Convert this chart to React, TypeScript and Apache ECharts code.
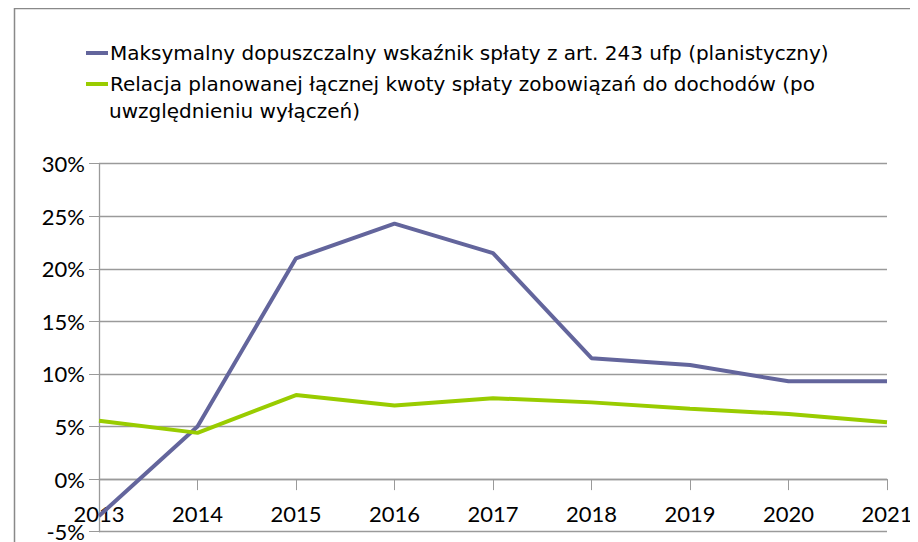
import React, { useEffect, useRef } from "react";
import * as echarts from "echarts";

const years = ["2013", "2014", "2015", "2016", "2017", "2018", "2019", "2020", "2021"];
const maxRatio = [-3.5, 5.0, 21.0, 24.3, 21.5, 11.5, 10.85, 9.3, 9.3];
const plannedRatio = [5.55, 4.4, 8.0, 7.0, 7.7, 7.3, 6.7, 6.2, 5.4];
const seriesNames = [
  "Maksymalny dopuszczalny wskaźnik spłaty z art. 243 ufp (planistyczny)",
  "Relacja planowanej łącznej kwoty spłaty zobowiązań do dochodów (po uwzględnieniu wyłączeń)",
];
const legendLine2First = "Relacja planowanej łącznej kwoty spłaty zobowiązań do dochodów (po";
const legendLine2Rest = "uwzględnieniu wyłączeń)";

const FONT = "Lato, 'Liberation Sans', sans-serif";
const LEGEND_FONT = "'DejaVu Sans', sans-serif";
const PURPLE = "#63659C";
const GREEN = "#99CC00";
const GRID = "#9A9A9A";

const GRID_TOP = 155.7;
const GRID_BOTTOM = 10.3;
const CHART_H = 534;
const Y_MIN = -5;
const Y_MAX = 30;

export default function App() {
  const ref = useRef<HTMLDivElement>(null);
  useEffect(() => {
    if (!ref.current) return;
    const chart = echarts.init(ref.current, undefined, { renderer: "svg" });
    const plotH = CHART_H - GRID_TOP - GRID_BOTTOM;
    const zeroOffset = (plotH * (0 - Y_MIN)) / (Y_MAX - Y_MIN);
    chart.setOption({
      animation: false,
      backgroundColor: "#fff",
      grid: { left: 91, right: 31, top: GRID_TOP, bottom: GRID_BOTTOM, containLabel: false, outerBoundsMode: "none" },
      legend: {
        orient: "vertical",
        left: 73,
        top: 30,
        itemGap: 11,
        itemWidth: 22,
        itemHeight: 4,
        icon: "rect",
        textStyle: { fontFamily: LEGEND_FONT, fontSize: 20, color: "#000", lineHeight: 20, padding: [0, 0, 0, -3] },
        formatter: (name: string) => (name === seriesNames[1] ? legendLine2First : name),
        data: [
          { name: seriesNames[0], itemStyle: { color: PURPLE } },
          { name: seriesNames[1], itemStyle: { color: GREEN } },
        ],
      },
      graphic: [
        {
          type: "rect",
          silent: true,
          shape: { x: 6.5, y: 0.5, width: 2000, height: 2000 },
          style: { fill: "none", stroke: "#898989", lineWidth: 1.5 },
        },
        {
          type: "text",
          left: 101,
          top: 93,
          style: { text: legendLine2Rest, fontFamily: LEGEND_FONT, fontSize: 20, fill: "#000" },
        },
      ],
      xAxis: {
        type: "category",
        data: years,
        boundaryGap: false,
        position: "bottom",
        offset: -zeroOffset,
        axisLine: { onZero: false, lineStyle: { color: GRID, width: 1.3 } },
        axisTick: { show: true, length: 11, lineStyle: { color: GRID } },
        axisLabel: { fontFamily: FONT, fontSize: 22, color: "#000", margin: 23 },
        splitLine: { show: false },
      },
      yAxis: {
        type: "value",
        min: Y_MIN,
        max: Y_MAX,
        interval: 5,
        axisLine: { show: true, lineStyle: { color: GRID, width: 1.3 } },
        axisTick: { show: true, length: 10, lineStyle: { color: GRID } },
        axisLabel: { fontFamily: FONT, fontSize: 22, color: "#000", margin: 14, formatter: "{value}%" },
        splitLine: { show: true, lineStyle: { color: GRID, width: 1.3 } },
      },
      series: [
        {
          name: seriesNames[0],
          type: "line",
          data: maxRatio,
          symbol: "none",
          lineStyle: { color: PURPLE, width: 4 },
          itemStyle: { color: PURPLE },
        },
        {
          name: seriesNames[1],
          type: "line",
          data: plannedRatio,
          symbol: "none",
          lineStyle: { color: GREEN, width: 4 },
          itemStyle: { color: GREEN },
        },
      ],
    });
    return () => chart.dispose();
  }, []);
  return <div ref={ref} style={{ width: 910, height: 534 }} />;
}
